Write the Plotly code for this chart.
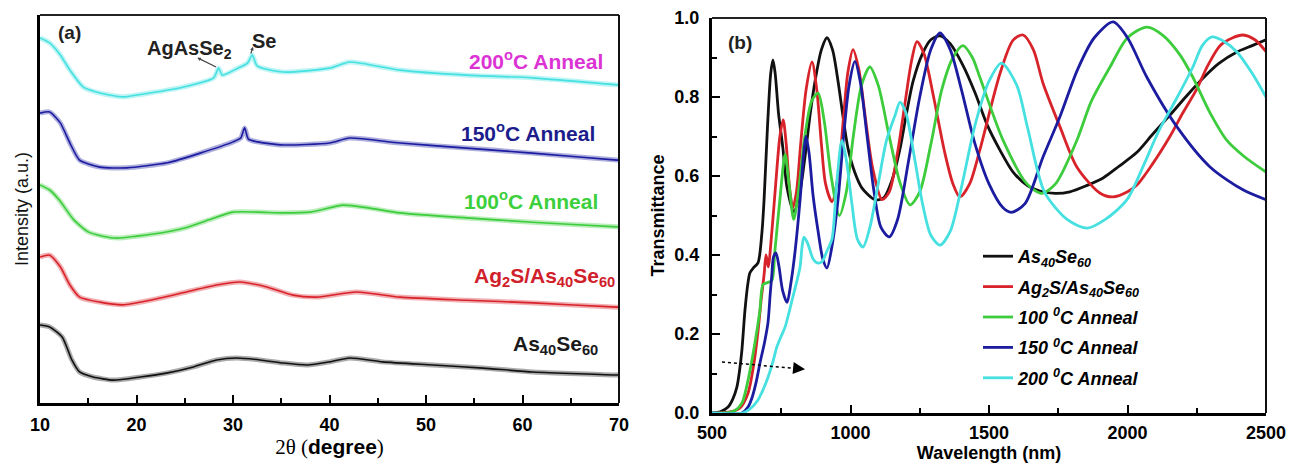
import plotly.graph_objects as go

# ---------------- (a) XRD patterns (stacked, arbitrary units) ----------------
two_theta_black = [10.0, 11.0, 12.3, 13.3, 14.1, 15.5, 17.6, 20.4, 23.1, 25.9, 28.3, 30.4, 32.8,
                   35.2, 37.7, 40.0, 42.1, 45.5, 50.7, 55.9, 61.1, 69.8, 70.0]
int_black = [20.1, 19.6, 17.0, 11.1, 8.0, 6.7, 5.9, 6.7, 7.7, 9.3, 11.1, 11.6, 11.1,
             10.3, 9.8, 10.6, 11.6, 10.6, 9.8, 9.0, 8.0, 7.2, 7.2]

two_theta_red = [10.0, 11.0, 12.1, 13.1, 14.1, 16.2, 18.6, 21.4, 24.8, 28.3, 30.7, 33.5, 36.2,
                 38.7, 42.8, 47.3, 54.2, 61.1, 69.8, 70.0]
int_red = [37.6, 38.1, 35.1, 30.4, 27.3, 26.0, 25.3, 26.5, 28.4, 30.4, 31.2, 29.9, 27.8,
           27.3, 28.6, 27.3, 26.5, 25.8, 24.7, 24.7]

two_theta_green = [10.0, 11.0, 12.0, 13.5, 15.0, 16.5, 18.0, 20.0, 22.5, 25.0, 27.5, 30.0, 32.5,
                   35.2, 38.0, 41.4, 44.0, 47.3, 54.2, 61.0, 69.8, 70.0]
int_green = [56.2, 54.9, 52.3, 47.2, 44.1, 43.0, 42.5, 43.0, 43.8, 45.1, 47.2, 49.2, 49.2,
             49.0, 49.2, 51.0, 50.3, 49.0, 47.7, 46.6, 45.4, 45.4]

two_theta_blue = [10.0, 11.0, 12.1, 13.1, 14.1, 16.2, 19.0, 23.2, 26.6, 30.0, 30.8, 31.2, 31.6,
                  32.5, 35.2, 40.0, 42.1, 47.3, 54.2, 61.0, 69.8, 70.0]
int_blue = [74.7, 75.0, 72.2, 67.0, 62.6, 60.8, 60.6, 61.9, 64.4, 67.3, 68.3, 70.9, 68.0,
            67.3, 66.5, 67.0, 68.3, 67.0, 65.7, 64.4, 62.6, 62.6]

two_theta_cyan = [10.0, 11.0, 12.1, 13.1, 14.5, 16.2, 18.6, 21.4, 24.8, 28.0, 28.5, 28.9, 30.5,
                  31.5, 32.0, 32.5, 35.2, 40.0, 42.1, 47.3, 54.2, 61.0, 69.8, 70.0]
int_cyan = [94.1, 92.8, 89.7, 85.8, 81.4, 79.9, 78.9, 79.9, 81.4, 83.8, 86.3, 84.5, 86.3,
            87.6, 89.7, 86.9, 85.3, 86.3, 87.9, 85.8, 84.5, 83.8, 82.0, 82.0]

# ---------------- (b) Transmittance spectra ----------------
wl_black = [500, 530, 558, 575, 590, 600, 608, 619, 630, 637, 650, 666, 680, 688, 700, 712, 720,
            728, 740, 756, 771, 795, 815, 836, 855, 872, 895, 915, 935, 955, 975, 991, 1015,
            1041, 1088, 1120, 1150, 1179, 1200, 1226, 1260, 1290, 1323, 1360, 1406, 1450, 1493,
            1540, 1587, 1640, 1684, 1740, 1792, 1850, 1912, 1970, 2034, 2090, 2153, 2210, 2273,
            2330, 2395, 2450, 2500]
t_black = [0.0, 0.003, 0.015, 0.035, 0.066, 0.11, 0.16, 0.26, 0.33, 0.355, 0.368, 0.38, 0.455,
           0.54, 0.72, 0.86, 0.894, 0.86, 0.76, 0.67, 0.57, 0.51, 0.55, 0.65, 0.76, 0.84, 0.92,
           0.95, 0.92, 0.84, 0.74, 0.67, 0.61, 0.57, 0.54, 0.545, 0.59, 0.67, 0.75, 0.84, 0.91,
           0.945, 0.955, 0.935, 0.88, 0.81, 0.73, 0.665, 0.61, 0.575, 0.562, 0.556, 0.56, 0.575,
           0.595, 0.625, 0.66, 0.705, 0.754, 0.80, 0.848, 0.885, 0.914, 0.93, 0.945]

wl_red = [500, 560, 600, 630, 650, 665, 678, 688, 695, 703, 715, 730, 745, 757, 768, 780, 792,
          805, 820, 840, 861, 878, 895, 910, 933, 955, 975, 990, 1009, 1030, 1055, 1080, 1114,
          1140, 1170, 1200, 1220, 1240, 1265, 1300, 1340, 1370, 1395, 1430, 1467, 1540, 1587,
          1623, 1660, 1695, 1756, 1817, 1900, 1948, 2000, 2034, 2090, 2153, 2200, 2250, 2290,
          2334, 2380, 2417, 2460, 2500]
t_red = [0.0, 0.002, 0.012, 0.05, 0.12, 0.2, 0.29, 0.35, 0.40, 0.37, 0.45, 0.58, 0.70, 0.742,
         0.68, 0.57, 0.52, 0.56, 0.68, 0.82, 0.889, 0.82, 0.68, 0.58, 0.535, 0.6, 0.75, 0.86,
         0.92, 0.87, 0.74, 0.62, 0.54, 0.56, 0.66, 0.8, 0.89, 0.94, 0.91, 0.80, 0.66, 0.58,
         0.547, 0.58, 0.666, 0.86, 0.944, 0.957, 0.92, 0.835, 0.725, 0.623, 0.557, 0.547, 0.56,
         0.577, 0.63, 0.70, 0.76, 0.82, 0.88, 0.93, 0.95, 0.957, 0.945, 0.915]

wl_green = [500, 547, 580, 608, 630, 655, 673, 684, 700, 716, 727, 745, 764, 778, 795, 812, 835,
            860, 883, 905, 930, 960, 985, 1010, 1040, 1070, 1100, 1140, 1180, 1215, 1250, 1290,
            1330, 1370, 1406, 1440, 1467, 1551, 1637, 1690, 1740, 1817, 1870, 1937, 2000, 2070,
            2130, 2190, 2236, 2298, 2359, 2420, 2500]
t_green = [0.0, 0.0, 0.005, 0.025, 0.083, 0.177, 0.26, 0.325, 0.33, 0.335, 0.41, 0.54, 0.655,
           0.58, 0.49, 0.56, 0.70, 0.79, 0.81, 0.74, 0.60, 0.50, 0.56, 0.70, 0.83, 0.876, 0.83,
           0.70, 0.58, 0.527, 0.56, 0.68, 0.82, 0.90, 0.93, 0.90, 0.85, 0.69, 0.58, 0.556, 0.58,
           0.69, 0.79, 0.876, 0.95, 0.977, 0.955, 0.906, 0.85, 0.76, 0.69, 0.65, 0.61]

wl_blue = [500, 608, 630, 645, 660, 673, 690, 702, 710, 716, 722, 731, 742, 755, 771, 785, 800,
           818, 830, 839, 850, 865, 883, 900, 915, 935, 955, 975, 995, 1016, 1035, 1060, 1085,
           1110, 1140, 1170, 1210, 1250, 1290, 1323, 1360, 1400, 1450, 1500, 1550, 1580, 1630,
           1695, 1756, 1820, 1880, 1948, 2000, 2070, 2178, 2298, 2417, 2500]
t_blue = [0.0, 0.0, 0.015, 0.04, 0.08, 0.126, 0.18, 0.228, 0.30, 0.35, 0.395, 0.405, 0.37, 0.31,
          0.28, 0.33, 0.41, 0.54, 0.65, 0.70, 0.66, 0.55, 0.46, 0.39, 0.367, 0.43, 0.54, 0.70,
          0.83, 0.89, 0.84, 0.70, 0.56, 0.47, 0.446, 0.49, 0.64, 0.80, 0.92, 0.962, 0.92, 0.82,
          0.68, 0.58, 0.52, 0.508, 0.53, 0.648, 0.75, 0.87, 0.95, 0.99, 0.95, 0.85, 0.725, 0.623,
          0.565, 0.54]

wl_cyan = [500, 610, 640, 666, 685, 702, 720, 734, 750, 764, 780, 792, 805, 818, 825, 832, 845,
           865, 880, 897, 915, 933, 950, 969, 985, 1005, 1025, 1045, 1070, 1100, 1130, 1161,
           1179, 1200, 1230, 1260, 1290, 1323, 1360, 1400, 1450, 1500, 1545, 1600, 1640, 1700,
           1782, 1854, 1920, 1998, 2060, 2110, 2180, 2236, 2270, 2305, 2350, 2395, 2450, 2500]
t_cyan = [0.0, 0.0, 0.012, 0.033, 0.06, 0.09, 0.13, 0.167, 0.195, 0.218, 0.26, 0.294, 0.33, 0.37,
          0.42, 0.445, 0.43, 0.39, 0.38, 0.383, 0.41, 0.44, 0.58, 0.69, 0.64, 0.53, 0.44, 0.42,
          0.47, 0.58, 0.69, 0.754, 0.787, 0.76, 0.65, 0.53, 0.45, 0.425, 0.46, 0.57, 0.73, 0.84,
          0.886, 0.83, 0.72, 0.56, 0.49, 0.468, 0.49, 0.54, 0.63, 0.71, 0.80, 0.876, 0.93, 0.952,
          0.94, 0.914, 0.86, 0.80]

names_b = ["As<sub>40</sub>Se<sub>60</sub>",
           "Ag<sub>2</sub>S/As<sub>40</sub>Se<sub>60</sub>",
           "100 <sup>0</sup>C Anneal",
           "150 <sup>0</sup>C Anneal",
           "200 <sup>0</sup>C Anneal"]

labels_a = ["As<sub>40</sub>Se<sub>60</sub>",
            "Ag<sub>2</sub>S/As<sub>40</sub>Se<sub>60</sub>",
            "100<sup>o</sup>C Anneal",
            "150<sup>o</sup>C Anneal",
            "200<sup>o</sup>C Anneal"]

COL_LINE = ["#111111", "#d8232a", "#3ccc3c", "#1c1ca0", "#46e0e0"]
COL_LABEL_A = ["#1a1a1a", "#d0202a", "#3ccf3c", "#1c1c8c", "#dc34d4"]
FONT = "Liberation Sans, Arial, sans-serif"

fig = go.Figure()

xrd = [(two_theta_black, int_black), (two_theta_red, int_red), (two_theta_green, int_green),
       (two_theta_blue, int_blue), (two_theta_cyan, int_cyan)]
for (tt, iv), c in zip(xrd, COL_LINE):
    # soft band under a thin trace gives the broad, noisy look of the raw scans
    fig.add_trace(go.Scatter(x=tt, y=iv, mode="lines", line=dict(color=c, width=5, shape="spline", smoothing=0.6),
                             opacity=0.35, showlegend=False, hoverinfo="skip", xaxis="x", yaxis="y"))
    fig.add_trace(go.Scatter(x=tt, y=iv, mode="lines", line=dict(color=c, width=1.6, shape="spline", smoothing=0.6),
                             showlegend=False, xaxis="x", yaxis="y"))

spectra = [(wl_black, t_black), (wl_red, t_red), (wl_green, t_green), (wl_blue, t_blue), (wl_cyan, t_cyan)]
for i, ((wl, tv), c, nm) in enumerate(zip(spectra, COL_LINE, names_b)):
    fig.add_trace(go.Scatter(x=wl, y=tv, mode="lines", name=nm, legendgroup=f"g{i}",
                             line=dict(color=c, width=2.8, shape="spline", smoothing=0.8),
                             xaxis="x2", yaxis="y2"))

# dotted red-shift arrow of the absorption edge
arrow_x = [536, 836]
arrow_y = [0.129, 0.111]
fig.add_trace(go.Scatter(x=arrow_x, y=arrow_y, mode="lines", line=dict(color="black", width=1.5, dash="dot"),
                         showlegend=False, hoverinfo="skip", xaxis="x2", yaxis="y2"))

W, H = 1292, 464
ax_common = dict(showline=True, linecolor="black", linewidth=3, showgrid=False, zeroline=False,
                 tickcolor="black", tickwidth=2, ticklen=8,
                 tickfont=dict(family=FONT, size=18, color="black", weight="bold"))

fig.update_layout(
    width=W, height=H, margin=dict(l=0, r=0, t=0, b=0, autoexpand=False),
    paper_bgcolor="white", plot_bgcolor="white",
    xaxis=dict(domain=[40 / W, 619 / W], range=[10, 70], tickvals=[10, 20, 30, 40, 50, 60, 70],
               ticks="inside",
               minor=dict(dtick=5, ticks="inside", ticklen=5, tickwidth=2, tickcolor="black"),
               ticklabelstandoff=3,
               title=dict(text='<span style="font-family:Liberation Serif">2θ (</span><b>degree</b>'
                               '<span style="font-family:Liberation Serif">)</span>',
                          font=dict(family=FONT, size=21, color="black"), standoff=1),
               **ax_common),
    yaxis=dict(domain=[61 / H, 449 / H], range=[0, 100], showticklabels=False, ticks="",
               title=dict(text="Intensity (a.u.)", font=dict(family=FONT, size=18, color="#111"), standoff=4),
               **ax_common),
    xaxis2=dict(domain=[712 / W, 1266 / W], range=[500, 2500], tickvals=[500, 1000, 1500, 2000, 2500],
                ticks="inside",
                minor=dict(dtick=250, ticks="inside", ticklen=5, tickwidth=2, tickcolor="black"),
                ticklabelstandoff=1, anchor="y2",
                title=dict(text="<b>Wavelength (nm)</b>", font=dict(family=FONT, size=18, color="black"), standoff=3),
                **ax_common),
    yaxis2=dict(domain=[51 / H, 446 / H], range=[0, 1.0], tickvals=[0, 0.2, 0.4, 0.6, 0.8, 1.0],
                tickformat=".1f", anchor="x2", ticks="inside",
                minor=dict(dtick=0.1, ticks="inside", ticklen=5, tickwidth=2, tickcolor="black"),
                ticklabelstandoff=6,
                title=dict(text="<b>Transmittance</b>", font=dict(family=FONT, size=18, color="black"), standoff=6),
                **ax_common),
    legend=dict(x=978 / W, y=(H - 238) / H, xanchor="left", yanchor="top", bgcolor="rgba(0,0,0,0)",
                font=dict(family=FONT, size=18, color="black", weight="bold", style="italic"),
                tracegroupgap=4),
    showlegend=True,
)

# thinner top/right frame lines for both panels
for xr, yr in (("x domain", "y domain"), ("x2 domain", "y2 domain")):
    fig.add_shape(type="line", xref=xr, yref=yr, x0=0, x1=1, y0=1, y1=1, line=dict(color="#222", width=2))
    fig.add_shape(type="line", xref=xr, yref=yr, x0=1, x1=1, y0=0, y1=1, line=dict(color="#111", width=2))

# sample labels beside the XRD traces
label_pos_a = [(68.0, 14.9), (69.8, 32.5), (68.0, 52.3), (67.7, 69.8), (68.55, 88.4)]
for (lx, ly), txt, c in zip(label_pos_a, labels_a, COL_LABEL_A):
    fig.add_annotation(x=lx, y=ly, xref="x", yref="y", text=f"<b>{txt}</b>", showarrow=False,
                       xanchor="right", yanchor="middle",
                       font=dict(family=FONT, size=21, color=c))

# phase labels with pointer lines to the crystalline peaks
fig.add_annotation(x=25.44, y=91.2, xref="x", yref="y", text="<b>AgAsSe<sub>2</sub></b>", showarrow=False,
                   font=dict(family=FONT, size=20, color="#222"))
fig.add_annotation(x=33.2, y=93.3, xref="x", yref="y", text="<b>Se</b>", showarrow=False,
                   font=dict(family=FONT, size=20, color="#222"))
fig.add_annotation(x=26.3, y=89.0, ax=28.4, ay=86.4, xref="x", yref="y", axref="x", ayref="y", text="",
                   showarrow=True, arrowhead=2, arrowsize=0.6, arrowwidth=1.2, arrowcolor="#444")
fig.add_annotation(x=32.07, y=91.8, ax=31.8, ay=89.7, xref="x", yref="y", axref="x", ayref="y", text="",
                   showarrow=True, arrowhead=2, arrowsize=0.6, arrowwidth=1.2, arrowcolor="#444")

# panel tags
fig.add_annotation(x=13.1, y=95.4, xref="x", yref="y", text="<b>(a)</b>", showarrow=False,
                   font=dict(family=FONT, size=19, color="#222"))
fig.add_annotation(x=601, y=0.939, xref="x2", yref="y2", text="<b>(b)</b>", showarrow=False,
                   font=dict(family=FONT, size=19, color="#222"))

# arrowhead at the end of the dotted line
fig.add_annotation(x=arrow_x[1], y=arrow_y[1], ax=arrow_x[1] - 30, ay=arrow_y[1] + 0.002,
                   xref="x2", yref="y2", axref="x2", ayref="y2", text="", showarrow=True,
                   arrowhead=2, arrowsize=1.6, arrowwidth=1.5, arrowcolor="black")

fig.write_html("out.html")
